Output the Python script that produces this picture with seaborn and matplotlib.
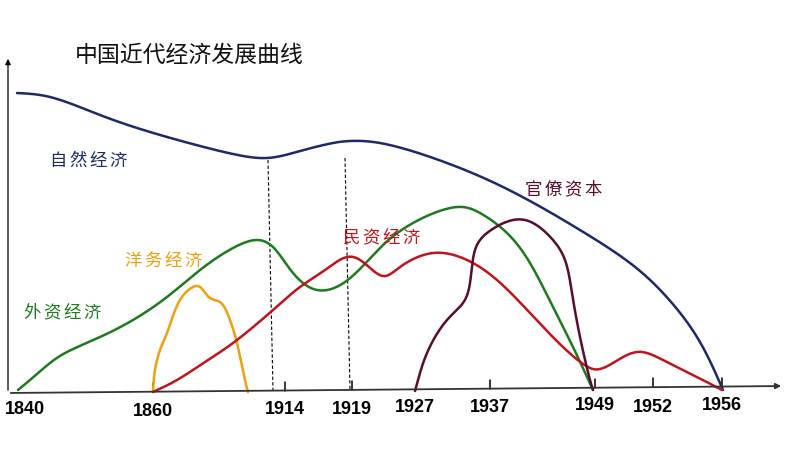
import numpy as np
import pandas as pd
import matplotlib
matplotlib.use("Agg")
import matplotlib.pyplot as plt
import seaborn as sns

sns.set_theme(style="white")
plt.rcParams['font.family'] = ['Noto Sans CJK SC', 'DejaVu Sans']

# ---- data (chart units: x along the time axis, y measured downward from top) ----
title = "中国近代经济发展曲线"
tick_years = ["1840", "1860", "1914", "1919", "1927", "1937", "1949", "1952", "1956"]
tick_pos = [25, 153, 285, 352, 415, 490, 595, 653, 722]

natural_x = [17, 50, 100, 150, 200, 233, 267, 300, 333, 350, 380, 447, 513, 580, 630, 663, 697, 723]
natural_y = [93, 97, 115, 132, 146, 154, 158, 151, 143, 141, 143, 163, 192, 230, 263, 293, 337, 390]

foreign_x = [18, 30, 50, 67, 100, 133, 167, 200, 233, 257, 273, 293, 317, 345, 380, 413, 457, 480, 507, 530, 553, 573, 593]
foreign_y = [390, 380, 363, 352, 337, 320, 297, 270, 248, 240, 247, 273, 290, 282, 248, 223, 207, 213, 233, 263, 307, 347, 390]

yangwu_x = [153, 155, 160, 167, 180, 193, 200, 210, 220, 230, 237, 245, 248]
yangwu_y = [390, 370, 350, 333, 300, 287, 287, 298, 302, 320, 343, 380, 392]

private_x = [153, 177, 205, 233, 273, 300, 325, 347, 363, 383, 400, 433, 467, 497, 530, 563, 590, 600, 613, 637, 663, 697, 722]
private_y = [392, 380, 362, 343, 310, 287, 270, 257, 262, 276, 267, 253, 260, 280, 313, 347, 368, 369, 363, 352, 360, 377, 390]

bureau_x = [415, 418, 427, 447, 463, 470, 475, 487, 513, 533, 553, 565, 572, 580, 590, 593]
bureau_y = [391, 380, 353, 320, 303, 283, 250, 233, 220, 223, 240, 260, 293, 337, 380, 390]

series = [
    ("自然经济", natural_x, natural_y, "#1c2a68"),
    ("外资经济", foreign_x, foreign_y, "#1f7a1f"),
    ("洋务经济", yangwu_x, yangwu_y, "#f0a00e"),
    ("民资经济", private_x, private_y, "#c0141c"),
    ("官僚资本", bureau_x, bureau_y, "#5a0c2e"),
]

labels = {
    "自然经济": (88, 161),
    "外资经济": (62, 313),
    "洋务经济": (163, 261),
    "民资经济": (381, 238),
    "官僚资本": (563, 190),
}


def natural_spline(t, v, tt):
    n = len(t)
    h = np.diff(t)
    A = np.zeros((n, n))
    b = np.zeros(n)
    A[0, 0] = A[-1, -1] = 1
    for i in range(1, n - 1):
        A[i, i - 1] = h[i - 1]
        A[i, i] = 2 * (h[i - 1] + h[i])
        A[i, i + 1] = h[i]
        b[i] = 6 * ((v[i + 1] - v[i]) / h[i] - (v[i] - v[i - 1]) / h[i - 1])
    M = np.linalg.solve(A, b)
    idx = np.clip(np.searchsorted(t, tt) - 1, 0, n - 2)
    t0, t1 = t[idx], t[idx + 1]
    hh = t1 - t0
    a = (t1 - tt) / hh
    c = (tt - t0) / hh
    return (a * v[idx] + c * v[idx + 1]
            + ((a ** 3 - a) * M[idx] + (c ** 3 - c) * M[idx + 1]) * hh ** 2 / 6)


def smooth(xs, ys, n=600):
    x = np.asarray(xs, float)
    y = np.asarray(ys, float)
    d = np.sqrt(np.hypot(np.diff(x), np.diff(y)))  # centripetal parameter
    t = np.concatenate([[0], np.cumsum(d)])
    tt = np.linspace(0, t[-1], n)
    return np.column_stack([natural_spline(t, x, tt), natural_spline(t, y, tt)])


fig = plt.figure(figsize=(7.94, 4.5), dpi=100)
ax = fig.add_axes([0, 0, 1, 1])

# axes arrows
ax.annotate("", xy=(8, 56), xytext=(8, 393),
            arrowprops=dict(arrowstyle="-|>", color="black", lw=0.9, mutation_scale=8))
ax.annotate("", xy=(784, 386), xytext=(8, 393),
            arrowprops=dict(arrowstyle="-|>", color="#333333", lw=1.3, mutation_scale=8))

# tick marks (1840 & 1927 have none)
for yr, xp in zip(tick_years, tick_pos):
    base = 393 - (xp - 8) * 7 / 776
    if yr not in ("1840", "1927"):
        ax.plot([xp, xp], [base, base - 9], color="black", lw=1.1)

# dashed reference lines
ax.plot([268, 273], [160, 390], color="black", lw=0.8, ls=(0, (3, 2)))
ax.plot([345, 350], [158, 390], color="black", lw=0.8, ls=(0, (3, 2)))

for name, xs, ys, col in series:
    pts = smooth(xs, ys)
    df = pd.DataFrame({"x": pts[:, 0], "y": pts[:, 1]})
    sns.lineplot(data=df, x="x", y="y", sort=False, estimator=None, color=col, lw=1.8, ax=ax)
    lx, ly = labels[name]
    pitch = 20
    for k, ch in enumerate(name):
        ax.text(lx + (k - 1.5) * pitch, ly, ch, color=col, fontsize=12.5, ha="center", va="center")

ax.set_xlim(0, 794)
ax.set_ylim(450, 0)
ax.axis("off")

ax.text(75, 55, title, fontsize=16.5, color="#111111", ha="left", va="center")

label_y = [410, 412, 409, 409, 408, 407, 406, 408, 405]
for yr, xp, ly in zip(tick_years, tick_pos, label_y):
    ax.text(xp, ly, yr, fontsize=13, fontweight="bold", ha="center", va="center",
            family=["Liberation Sans Narrow", "Liberation Sans"], color="black")

fig.savefig("out.png", dpi=100)
